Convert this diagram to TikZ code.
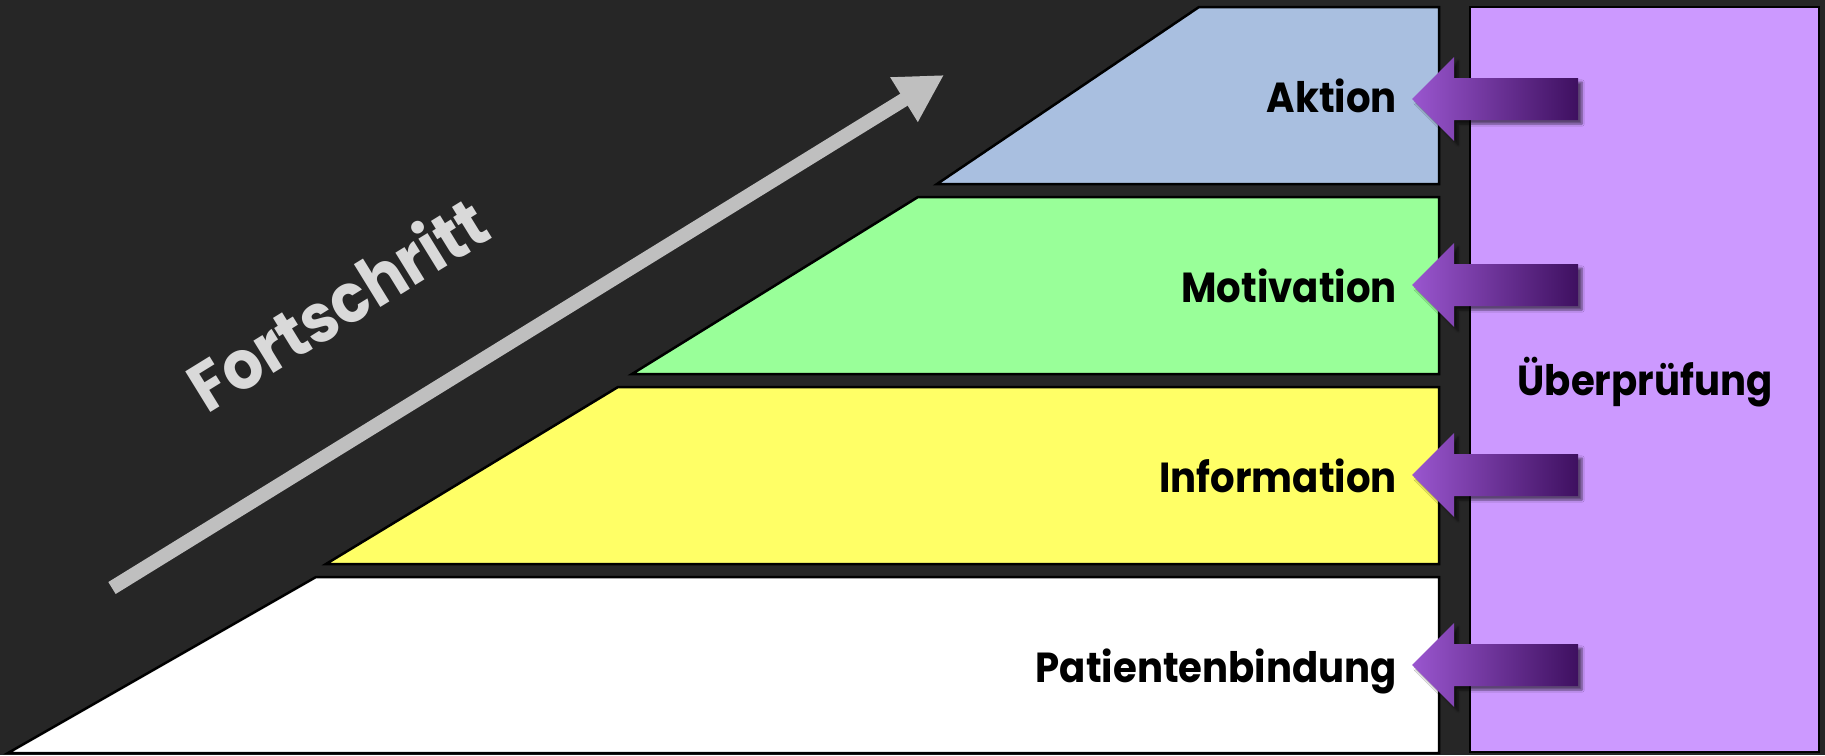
\documentclass[tikz,border=0pt]{standalone}
\usepackage{fontspec}
\setmainfont{Poppins}
\usetikzlibrary{arrows.meta,shadows.blur}
\definecolor{bgdark}{HTML}{262626}
\definecolor{aktionc}{HTML}{A9BFE0}
\definecolor{motivc}{HTML}{99FF99}
\definecolor{infoc}{HTML}{FFFF66}
\definecolor{checkc}{HTML}{CC99FF}
\definecolor{arrowlight}{HTML}{9A56CF}
\definecolor{arrowdark}{HTML}{3E1060}
\definecolor{progc}{HTML}{BFBFBF}
\definecolor{progtext}{HTML}{D9D9D9}
\tikzset{
  band/.style={draw=black, line width=2.5pt, line join=miter},
  purplearrow/.style={left color=arrowlight, right color=arrowdark,
    blur shadow={shadow xshift=4pt, shadow yshift=-4pt, shadow opacity=55, shadow blur steps=6}},
  labfont/.style={font=\fontsize{42}{44}\selectfont\bfseries, text=black, inner sep=0pt, xscale=0.92},
  lab/.style={labfont, anchor=base east},
}
\begin{document}
\begin{tikzpicture}[x=1pt,y=-1pt]
\useasboundingbox (0,0) rectangle (1825,755);
\fill[bgdark] (0,0) rectangle (1825,755);
% bands
\path[band, fill=aktionc] (1199,7) -- (1439,7) -- (1439,184) -- (937,184) -- cycle;
\path[band, fill=motivc] (918,197) -- (1439,197) -- (1439,374) -- (632,374) -- cycle;
\path[band, fill=infoc] (618,387) -- (1439,387) -- (1439,564) -- (326,564) -- cycle;
\path[band, fill=white] (316,577) -- (1439,577) -- (1439,753) -- (8,753) -- cycle;
% review column
\path[band, fill=checkc] (1470,7) rectangle (1819,752);
\node[labfont, anchor=base] (check) at (1645,395) {Überprüfung};
% purple arrows
\foreach \cy/\nm in {99/a1,285/a2,475/a3,665/a4}{
  \shade[purplearrow] (1412,\cy) -- (1454,\cy-42) -- (1454,\cy-21) -- (1578,\cy-21)
    -- (1578,\cy+21) -- (1454,\cy+21) -- (1454,\cy+42) -- cycle;
  \coordinate (\nm) at (1412,\cy);
}
% labels
\node[lab] (aktion) at (1397,112) {Aktion};
\node[lab] (motiv) at (1397,302) {Motivation};
\node[lab] (info) at (1397,492) {Information};
\node[lab] (patient) at (1397,682) {Patientenbindung};
% progress arrow
\coordinate (ps) at (112,588);
\coordinate (pe) at (944,75);
\draw[progc, line width=14pt, -{Triangle[length=47pt, width=49pt]}] (ps) -- (pe);
\node[text=progtext, rotate=31.7, xscale=0.92, font=\fontsize{68}{70}\selectfont\bfseries, inner sep=0pt] (prog) at (337,303) {Fortschritt};
\end{tikzpicture}
\end{document}
